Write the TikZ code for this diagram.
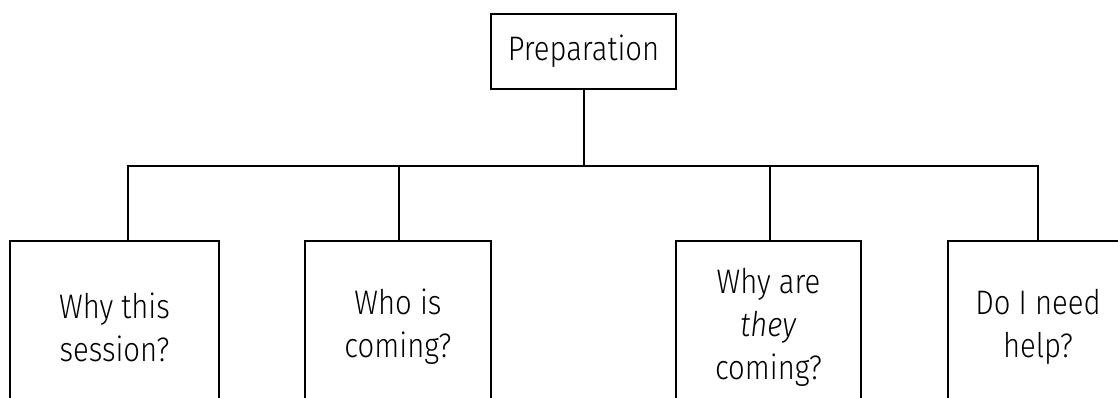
\documentclass[tikz,border=0pt]{standalone}
\usepackage{fontspec}
\IfFontExistsTF{Fira Sans Light}{%
  \setmainfont{Fira Sans Light}[FakeStretch=0.86]%
}{%
  \IfFontExistsTF{FiraSans-Light}{%
    \setmainfont{FiraSans-Light}[ItalicFont=FiraSans-LightItalic,FakeStretch=0.86]%
  }{%
    \setmainfont{Fira Sans}[FakeStretch=0.86]%
  }%
}
\begin{document}
\begin{tikzpicture}[x=1pt,y=-1pt,
  box/.style={draw,line width=2pt,inner sep=0pt,align=center,
    font=\fontsize{34}{43}\selectfont},
  link/.style={line width=2pt}]
\useasboundingbox (0,0) rectangle (1118,398);
\clip (0,0) rectangle (1118,398);
\node[box,minimum width=185pt,minimum height=75pt] (top) at (583.5,51.5) {Preparation};
\node[box,minimum width=209pt,minimum height=172pt] (b1) at (114.5,327) {Why this\\session?};
\node[box,minimum width=186pt,minimum height=172pt] (b2) at (398,327) {Who is\\coming?};
\node[box,minimum width=185pt,minimum height=172pt] (b3) at (768.5,327) {Why are\\\textit{they}\\coming?};
\node[box,minimum width=180pt,minimum height=172pt] (b4) at (1038,327) {Do I need\\help?};
\coordinate (j1) at (128,165.7);
\coordinate (j2) at (399,165.7);
\coordinate (j3) at (770,165.7);
\coordinate (j4) at (1038,165.7);
\draw[link] (top.south) -- (top.south |- j1);
\draw[link] (j1 |- b1.north) -- (j1) -- (j4) -- (j4 |- b4.north);
\draw[link] (j2) -- (j2 |- b2.north);
\draw[link] (j3) -- (j3 |- b3.north);
\end{tikzpicture}
\end{document}
